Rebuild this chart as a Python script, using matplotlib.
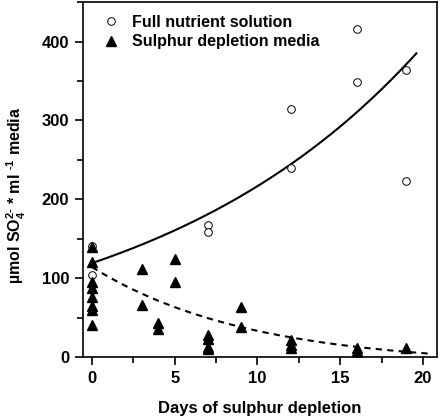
import numpy as np
import matplotlib
matplotlib.use("Agg")
import matplotlib.pyplot as plt
from matplotlib.ticker import MultipleLocator

plt.rcParams['font.family'] = ['Liberation Sans', 'DejaVu Sans']
plt.rcParams['font.weight'] = 'bold'
plt.rcParams['mathtext.fontset'] = 'custom'
plt.rcParams['mathtext.rm'] = 'Liberation Sans:bold'
plt.rcParams['mathtext.it'] = 'Liberation Sans:bold'
plt.rcParams['mathtext.bf'] = 'Liberation Sans:bold'
plt.rcParams['mathtext.default'] = 'rm'

# Full nutrient solution (open circles)
full_days = [0, 0, 7, 7, 12, 12, 16, 16, 19, 19]
full_vals = [141, 104, 167, 158, 315, 239, 416, 349, 364, 223]

# Sulphur depletion media (filled triangles)
dep_days = [0, 0, 0, 0, 0, 0, 0, 0,
            3, 3, 4, 4, 5, 5,
            7, 7, 7, 7, 9, 9,
            12, 12, 12, 16, 16, 16, 19]
dep_vals = [140, 121, 95, 87, 76, 64, 60, 41,
            111, 66, 43, 35, 124, 95,
            28, 23, 13, 10, 63, 38,
            21, 15, 11, 11, 7, 3, 11]

# Fitted curve parameters
full_fit = dict(a=119.0, b=0.0599, c=0.0, x0=0.0, x1=19.6)
dep_fit = dict(a=124.4, b=-0.105, c=-10.4, x0=0.0, x1=20.3)

fig = plt.figure(figsize=(4.41, 4.18), dpi=100)
ax = fig.add_axes([0.188, 0.146, 0.803, 0.849])

def curve(p):
    x = np.linspace(p['x0'], p['x1'], 200)
    return x, p['c'] + p['a'] * np.exp(p['b'] * x)

xs, ys = curve(full_fit)
ax.plot(xs, ys, color='black', lw=1.5, zorder=2)
xd, yd = curve(dep_fit)
ax.plot(xd, yd, color='black', lw=1.5, ls=(0, (3, 2.5)), zorder=2)

ax.plot(full_days, full_vals, 'o', mfc='white', mec='black', mew=0.7,
        ms=5.5, ls='none', label='Full nutrient solution', zorder=3)
ax.plot(dep_days, dep_vals, '^', color='black', ms=7.5, ls='none',
        label='Sulphur depletion media', zorder=3)

ax.set_xlim(-0.55, 20.85)
ax.set_ylim(0, 450)
ax.xaxis.set_major_locator(MultipleLocator(5))
ax.xaxis.set_minor_locator(MultipleLocator(2.5))
ax.yaxis.set_major_locator(MultipleLocator(100))
ax.yaxis.set_minor_locator(MultipleLocator(50))
ax.tick_params(which='both', direction='out', width=1.2, labelsize=12)
ax.tick_params(which='major', length=6, pad=4)
ax.tick_params(which='minor', length=4)
for s in ax.spines.values():
    s.set_linewidth(1.2)

ax.set_xlabel('Days of sulphur depletion', fontsize=12, fontweight='bold', labelpad=11)
ax.set_ylabel(r'µmol SO$_4^{2\text{-}}$ * ml $^{\text{-}1}$ media', fontsize=11.5,
              fontweight='bold')
ax.yaxis.set_label_coords(-0.155, 0.455)

leg = ax.legend(loc='upper left', frameon=False, fontsize=11.5,
                handletextpad=0.6, borderaxespad=0.6, labelspacing=0.3,
                handlelength=1.5, bbox_to_anchor=(0.0, 1.01))

fig.savefig('out.png', dpi=100)
